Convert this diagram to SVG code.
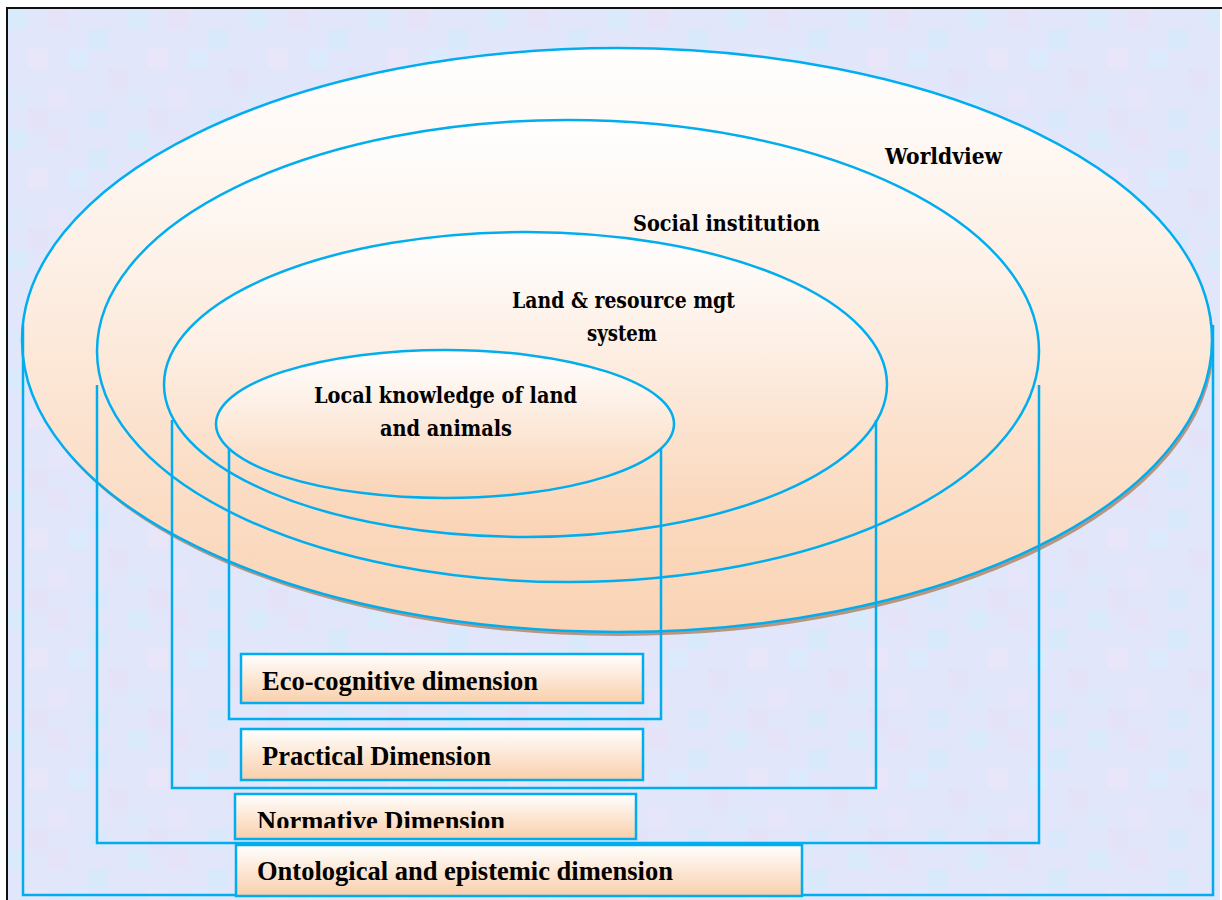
<svg xmlns="http://www.w3.org/2000/svg" width="1222" height="900" viewBox="0 0 1222 900">
<defs>
<linearGradient id="gEl" x1="0" y1="0" x2="0" y2="1">
<stop offset="0" stop-color="#ffffff"/>
<stop offset="0.35" stop-color="#fdf0e6"/>
<stop offset="1" stop-color="#fad3b4"/>
</linearGradient>
<linearGradient id="gBox" x1="0" y1="0" x2="0" y2="1">
<stop offset="0" stop-color="#ffffff"/>
<stop offset="1" stop-color="#f9cfab"/>
</linearGradient>
<pattern id="bg" x="8" y="9" width="120" height="120" patternUnits="userSpaceOnUse">
<rect width="120" height="120" fill="#e1e6fb"/>
<rect x="0" y="0" width="20" height="20" fill="#d9eafb"/>
<rect x="40" y="0" width="20" height="20" fill="#e6e3f8"/>
<rect x="80" y="20" width="20" height="20" fill="#d8e9fb"/>
<rect x="20" y="40" width="20" height="20" fill="#e8e6f8"/>
<rect x="60" y="40" width="20" height="20" fill="#dbeafc"/>
<rect x="100" y="60" width="20" height="20" fill="#e4e2f7"/>
<rect x="0" y="80" width="20" height="20" fill="#dde9fb"/>
<rect x="40" y="80" width="20" height="20" fill="#e7e5f9"/>
<rect x="80" y="100" width="20" height="20" fill="#d9e9fb"/>
<rect x="20" y="100" width="20" height="20" fill="#e3e2f6"/>
</pattern>
<clipPath id="clipN"><rect x="230" y="790" width="410" height="38"/></clipPath>
<style>
.ln{fill:none;stroke:#00aeef;stroke-width:2.5}
.el{fill:url(#gEl);stroke:#00aeef;stroke-width:2.5}
.box{fill:url(#gBox);stroke:#00aeef;stroke-width:2.5}
.et{font-family:"DejaVu Serif","Liberation Serif",serif;font-weight:bold;font-size:22.5px;fill:#000}
.bt{font-family:"Liberation Serif","Times New Roman",serif;font-weight:bold;font-size:26.5px;fill:#000}
</style>
</defs>
<rect x="0" y="0" width="1222" height="900" fill="#ffffff"/>
<rect x="8" y="9" width="1212" height="891" fill="url(#bg)"/>
<path d="M7 900 V8 H1222" fill="none" stroke="#111" stroke-width="2"/>

<g id="worldview">
<ellipse cx="619" cy="344" rx="595" ry="292" fill="#b8957f"/>
<ellipse class="el" cx="617" cy="340" rx="595" ry="292"/>
<text class="et" x="885" y="164" textLength="117" lengthAdjust="spacingAndGlyphs">Worldview</text>
</g>
<g id="social-institution">
<ellipse class="el" cx="568" cy="351" rx="471" ry="231"/>
<text class="et" x="633" y="231" textLength="187" lengthAdjust="spacingAndGlyphs">Social institution</text>
</g>
<g id="land-resource">
<ellipse class="el" cx="525.5" cy="384.5" rx="361.5" ry="152.5"/>
<text class="et" x="512" y="308" textLength="223" lengthAdjust="spacingAndGlyphs">Land &amp; resource mgt</text>
<text class="et" x="587" y="341" textLength="70" lengthAdjust="spacingAndGlyphs">system</text>
</g>
<g id="local-knowledge">
<ellipse class="el" cx="445" cy="424" rx="229" ry="74"/>
<text class="et" x="314" y="403" textLength="263" lengthAdjust="spacingAndGlyphs">Local knowledge of land</text>
<text class="et" x="380" y="436" textLength="132" lengthAdjust="spacingAndGlyphs">and animals</text>
</g>

<g id="connectors">
<path class="ln" d="M23 325 V895 H1213 V325"/>
<path class="ln" d="M97 385 V843 H1039 V385"/>
<path class="ln" d="M172 420 V788 H876 V420"/>
<path class="ln" d="M229 448 V719 H661 V448"/>
</g>

<g id="eco-cognitive">
<rect class="box" x="241" y="654" width="402" height="49"/>
<text class="bt" x="262" y="690">Eco-cognitive dimension</text>
</g>
<g id="practical">
<rect class="box" x="241" y="729" width="402" height="51"/>
<text class="bt" x="262" y="765">Practical Dimension</text>
</g>
<g id="normative">
<rect class="box" x="235" y="794" width="401" height="45"/>
<text class="bt" x="257" y="829.5" clip-path="url(#clipN)">Normative Dimension</text>
</g>
<g id="ontological">
<rect class="box" x="236" y="845" width="566" height="51"/>
<text class="bt" x="257" y="880">Ontological and epistemic dimension</text>
</g>
</svg>
